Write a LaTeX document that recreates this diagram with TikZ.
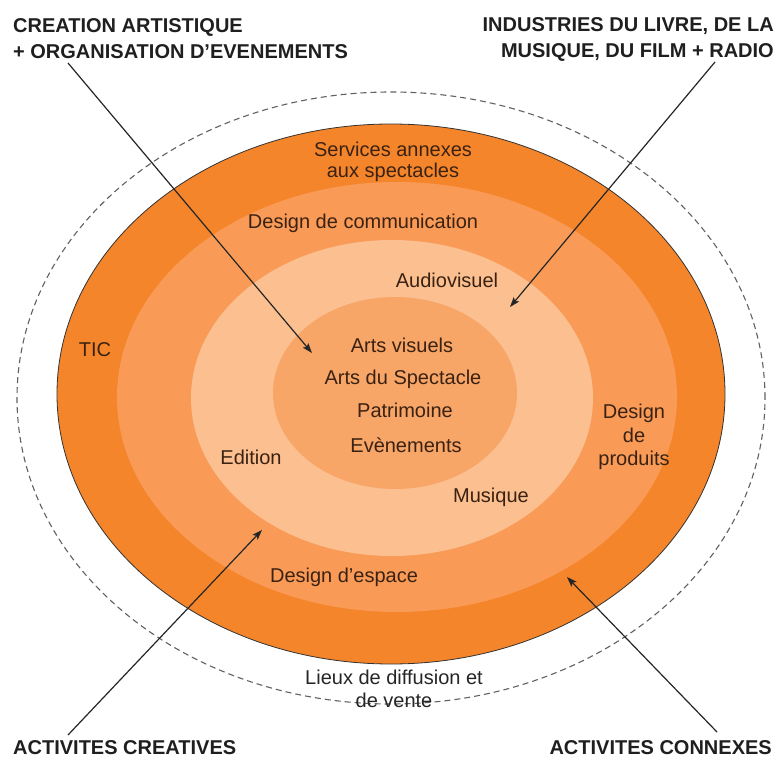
\documentclass[tikz,border=0pt]{standalone}
\usepackage{fontspec}
\setmainfont{Liberation Sans}
\usetikzlibrary{arrows.meta}
\definecolor{ringA}{HTML}{F5852B}
\definecolor{ringB}{HTML}{F99B57}
\definecolor{ringC}{HTML}{FBBF90}
\definecolor{ringD}{HTML}{F8A568}
\definecolor{txt}{HTML}{3A2212}
\begin{document}
\begin{tikzpicture}[x=1pt,y=-1pt,
  lbl/.style={font=\fontsize{20}{22}\selectfont, text=txt, align=center, inner sep=0pt},
  ttl/.style={font=\fontsize{20}{26}\selectfont\bfseries, text=black!88, inner sep=0pt},
  pointer/.style={-{Stealth[length=10pt,width=7pt,inset=2pt]}, line width=1.2pt, draw=black!85}]
\useasboundingbox (0,0) rectangle (780,765);
\fill[white] (0,0) rectangle (780,765);
% rings
\draw[dash pattern=on 6pt off 4pt, line width=1.1pt, black!62] (391,398) ellipse [x radius=374pt, y radius=306pt];
\filldraw[fill=ringA, draw=black!80, line width=0.8pt] (391,394) ellipse [x radius=334pt, y radius=270pt];
\fill[ringB] (397,397) ellipse [x radius=280pt, y radius=215pt];
\fill[ringC] (392,398) ellipse [x radius=201pt, y radius=158pt];
\fill[ringD] (395,393) ellipse [x radius=122pt, y radius=96pt];
% ring labels
\node[lbl, font=\fontsize{20}{21}\selectfont] (serv) at (393,162) {Services annexes\\aux spectacles};
\node[lbl] (dcom) at (363,223) {Design de communication};
\node[lbl] (audio) at (447,280) {Audiovisuel};
\node[lbl] (av) at (402,345) {Arts visuels};
\node[lbl] (ads) at (403,379) {Arts du Spectacle};
\node[lbl] (pat) at (405,410) {Patrimoine};
\node[lbl] (evt) at (406,445) {Evènements};
\node[lbl] (mus) at (491,497) {Musique};
\node[lbl] (edi) at (251,457) {Edition};
\node[lbl] (tic) at (95,350) {TIC};
\node[lbl, font=\fontsize{20}{23.5}\selectfont] (dprod) at (634,437) {Design\\de\\produits};
\node[lbl] (desp) at (344,577) {Design d’espace};
\node[lbl, font=\fontsize{20}{23}\selectfont, text=black!85] (lieux) at (394,689) {Lieux de diffusion et\\de vente};
% titles
\node[ttl, anchor=north west, align=left] (tcre) at (13,18) {CREATION ARTISTIQUE\\+ ORGANISATION D’EVENEMENTS};
\node[ttl, anchor=north east, align=right] (tind) at (774,17) {INDUSTRIES DU LIVRE, DE LA\\MUSIQUE, DU FILM + RADIO};
\node[ttl, anchor=west] (tac) at (13,748) {ACTIVITES CREATIVES};
\node[ttl, anchor=east] (tcx) at (772,748) {ACTIVITES CONNEXES};
% pointers
\coordinate (p1s) at (68,63);   \coordinate (p1e) at (312,353);
\coordinate (p2s) at (715,62);  \coordinate (p2e) at (510,307);
\coordinate (p3s) at (68,735);  \coordinate (p3e) at (262,530);
\coordinate (p4s) at (717,732); \coordinate (p4e) at (567,577);
\draw[pointer] (p1s) -- (p1e);
\draw[pointer] (p2s) -- (p2e);
\draw[pointer] (p3s) -- (p3e);
\draw[pointer] (p4s) -- (p4e);
\end{tikzpicture}
\end{document}
